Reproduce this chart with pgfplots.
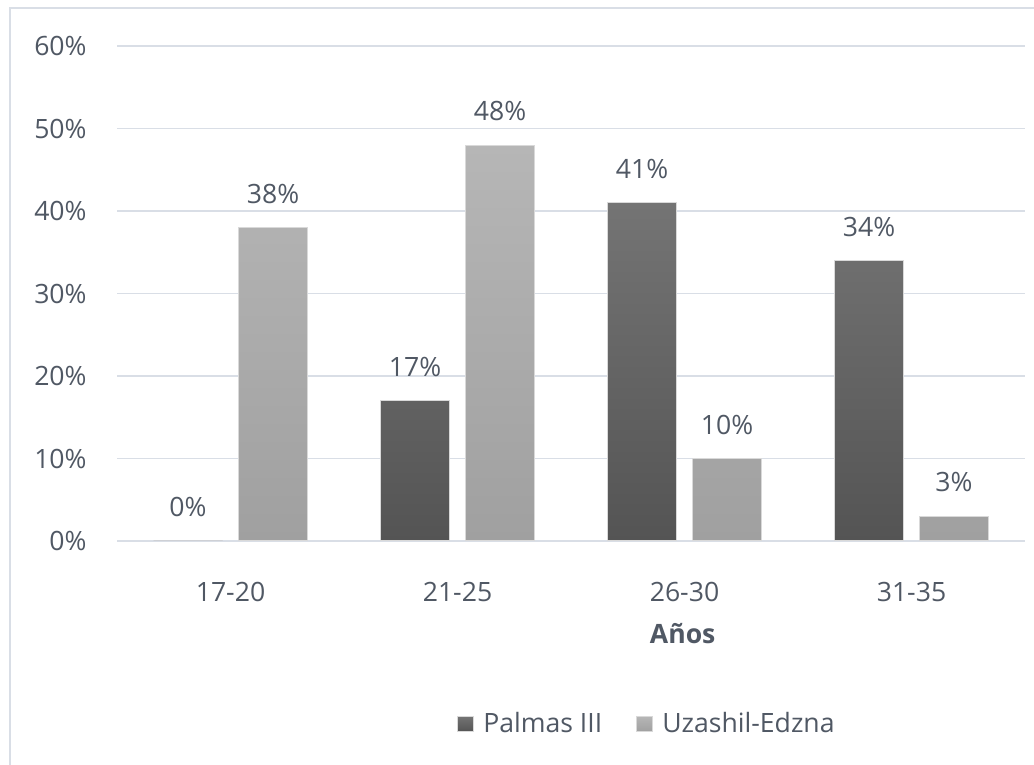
\documentclass[border=0pt]{standalone}
\usepackage{pgfplots}
\pgfplotsset{compat=1.18}
\usepackage{fontspec}
\setmainfont{Open Sans}
\definecolor{txt}{RGB}{80,88,100}
\definecolor{gridc}{RGB}{217,222,230}
\definecolor{darkT}{RGB}{116,116,116}
\definecolor{darkB}{RGB}{84,84,84}
\definecolor{lightT}{RGB}{182,182,182}
\definecolor{lightB}{RGB}{160,160,160}
\begin{document}
\begin{tikzpicture}[font=\fontsize{13.3}{15}\selectfont]
\useasboundingbox (0,0) rectangle (517pt,382.5pt);
\fill[white] (0,0) rectangle (517pt,382.5pt);
\draw[gridc, line width=1pt] (5pt,0) -- (5pt,378.5pt) -- (517pt,378.5pt);
\begin{axis}[
  at={(58.5pt,112pt)}, anchor=south west,
  width=454pt, height=247.5pt, scale only axis,
  ybar=8pt, bar width=34.5pt,
  legend image code/.code={\fill[#1] (0pt,-3.8pt) rectangle (8pt,3.8pt);},
  xmin=-0.5, xmax=3.5, ymin=0, ymax=60,
  xtick={0,1,2,3}, xticklabels={17-20,21-25,26-30,31-35},
  ytick={0,10,20,30,40,50,60},
  yticklabels={0\%,10\%,20\%,30\%,40\%,50\%,60\%},
  axis line style={draw=none}, major tick style={draw=none},
  ymajorgrids, grid style={gridc, line width=0.9pt},
  xticklabel style={anchor=center, yshift=-21pt, text=txt},
  yticklabel style={anchor=east, inner sep=0pt, xshift=-15pt, text=txt},
  /pgf/number format/assume math mode=true,
  nodes near coords={\pgfmathprintnumber{\pgfplotspointmeta}\%},
  nodes near coords style={text=txt, anchor=center, yshift=17pt},
  xlabel={\bfseries Años},
  xlabel style={at={(rel axis cs:0.623,-0.186)}, anchor=center, text=txt},
  legend columns=2,
  legend style={draw=none, fill=none, at={(rel axis cs:0.3744,-0.3697)}, anchor=west, inner sep=0pt, text=txt,
    /tikz/every odd column/.append style={column sep=2.5pt},
    /tikz/every even column/.append style={column sep=15pt}},
]
\addplot[top color=darkT, bottom color=darkB, draw=gray!30, line width=0.5pt]
  coordinates {(0,0) (1,17) (2,41) (3,34)};
\addlegendentry{Palmas III}
\addplot[top color=lightT, bottom color=lightB, draw=gray!30, line width=0.5pt]
  coordinates {(0,38) (1,48) (2,10) (3,3)};
\addlegendentry{Uzashil-Edzna}
\end{axis}
\end{tikzpicture}
\end{document}
